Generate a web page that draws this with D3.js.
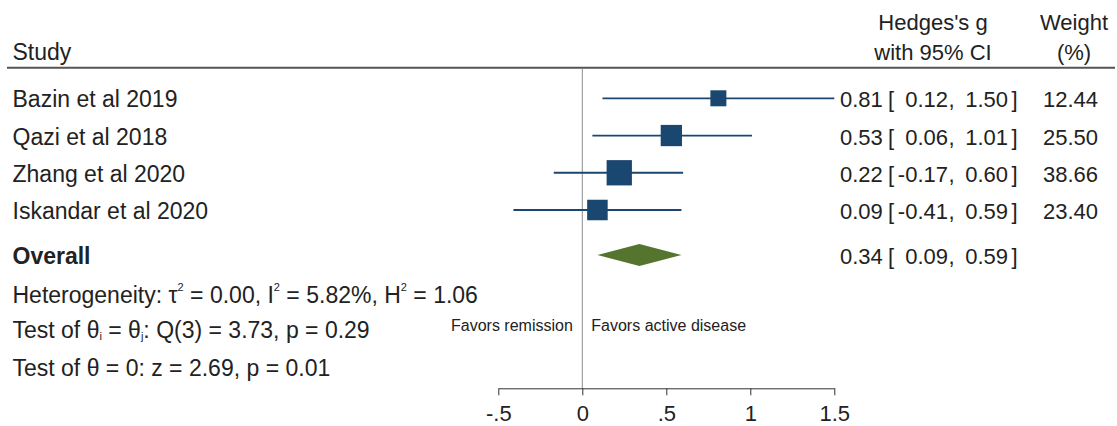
<!DOCTYPE html>
<html>
<head>
<meta charset="utf-8">
<script src="https://cdn.jsdelivr.net/npm/d3@7"></script>
<style>
  html, body { margin: 0; padding: 0; background: #fff; }
  svg { display: block; }
  text { font-family: "Liberation Sans", Arial, sans-serif; fill: #222; }
</style>
</head>
<body>
<svg id="chart" width="1117" height="426"></svg>
<script>
// Study-level results (Hedges's g, 95% CI, weight %)
const studies = ["Bazin et al 2019", "Qazi et al 2018", "Zhang et al 2020", "Iskandar et al 2020"];
const effect  = [0.81, 0.53, 0.22, 0.09];
const lower   = [0.12, 0.06, -0.17, -0.41];
const upper   = [1.50, 1.01, 0.60, 0.59];
const weight  = [12.44, 25.50, 38.66, 23.40];

// Pooled estimate
const overallEffect = 0.34;
const overallLower  = 0.09;
const overallUpper  = 0.59;

// Axis ticks
const tickValues = [-0.5, 0, 0.5, 1, 1.5];
const tickLabels = ["-.5", "0", ".5", "1", "1.5"];

const navy = "#1a476f";
const green = "#55752f";
// two decimals, plain hyphen for negatives
const fmt = d3.formatLocale({decimal: ".", thousands: ",", grouping: [3],
  currency: ["", ""], minus: "-"}).format(".2f");
const FS = 23;   // left-hand labels and statistics
const FR = 22;   // right-hand columns and axis labels

const svg = d3.select("#chart");
const W = 1117;

const x = d3.scaleLinear().domain([-0.5, 1.5]).range([498.3, 834.3]);
const y = d3.scalePoint().domain(studies).range([98.3, 210]);
const overallY = 255;
const axisY = 388.3;
const boxSide = d3.scaleSqrt().domain([0, d3.max(weight)]).range([3.8, 25.3]);

const rows = studies.map((s, i) => ({
  name: s, est: effect[i], lo: lower[i], hi: upper[i], w: weight[i]
}));

// Header
svg.append("text").attr("x", 12.5).attr("y", 60).attr("font-size", FS).text("Study");
svg.append("text").attr("x", 933).attr("y", 29.5).attr("font-size", FR)
  .attr("text-anchor", "middle").text("Hedges's g");
svg.append("text").attr("x", 933).attr("y", 60).attr("font-size", FR)
  .attr("text-anchor", "middle").text("with 95% CI");
svg.append("text").attr("x", 1074).attr("y", 29.5).attr("font-size", FR)
  .attr("text-anchor", "middle").text("Weight");
svg.append("text").attr("x", 1074).attr("y", 60).attr("font-size", FR)
  .attr("text-anchor", "middle").text("(%)");

svg.append("line")
  .attr("x1", 7).attr("x2", W - 2)
  .attr("y1", 67.7).attr("y2", 67.7)
  .attr("stroke", "#555").attr("stroke-width", 2);

// No-effect reference line
svg.append("line")
  .attr("x1", x(0)).attr("x2", x(0))
  .attr("y1", 68.7).attr("y2", axisY)
  .attr("stroke", "#8c8c8c").attr("stroke-width", 1);

// Study rows
const g = svg.append("g").selectAll("g.row").data(rows).join("g").attr("class", "row");

g.append("text")
  .attr("x", 12.5).attr("y", d => y(d.name) + 9)
  .attr("font-size", FS).text(d => d.name);

g.append("line")
  .attr("x1", d => x(d.lo)).attr("x2", d => x(d.hi))
  .attr("y1", d => y(d.name)).attr("y2", d => y(d.name))
  .attr("stroke", navy).attr("stroke-width", 1.8);

g.append("rect")
  .attr("x", d => x(d.est) - boxSide(d.w) / 2)
  .attr("y", d => y(d.name) - boxSide(d.w) / 2)
  .attr("width", d => boxSide(d.w))
  .attr("height", d => boxSide(d.w))
  .attr("fill", navy);

// Estimate and CI columns, each piece in its own aligned column
function ciText(sel, est, lo, hi, yy) {
  sel.append("text").attr("x", 840).attr("y", yy).attr("font-size", FR).text(fmt(est));
  sel.append("text").attr("x", 888).attr("y", yy).attr("font-size", FR).text("[");
  sel.append("text").attr("x", 948).attr("y", yy).attr("font-size", FR)
    .attr("text-anchor", "end").text(fmt(lo));
  sel.append("text").attr("x", 948.5).attr("y", yy).attr("font-size", FR).text(",");
  sel.append("text").attr("x", 1008).attr("y", yy).attr("font-size", FR)
    .attr("text-anchor", "end").text(fmt(hi));
  sel.append("text").attr("x", 1011.5).attr("y", yy).attr("font-size", FR).text("]");
}
rows.forEach(d => {
  const yy = y(d.name) + 9;
  ciText(svg, d.est, d.lo, d.hi, yy);
  svg.append("text").attr("x", 1098).attr("y", yy).attr("font-size", FR)
    .attr("text-anchor", "end").text(fmt(d.w));
});

// Overall
svg.append("text").attr("x", 12.5).attr("y", overallY + 9)
  .attr("font-size", FS).attr("font-weight", "bold").text("Overall");
svg.append("path")
  .attr("d", d3.line()([
    [x(overallLower), overallY],
    [x(overallEffect), overallY - 11],
    [x(overallUpper), overallY],
    [x(overallEffect), overallY + 11]
  ]) + "Z")
  .attr("fill", green);
ciText(svg, overallEffect, overallLower, overallUpper, overallY + 9);

// Heterogeneity and test statistics
function statLine(yy, parts) {
  const t = svg.append("text").attr("x", 12.5).attr("y", yy).attr("font-size", FS)
    .attr("xml:space", "preserve");
  parts.forEach(p => {
    if (typeof p === "string") {
      t.append("tspan").attr("y", yy).attr("font-size", FS).text(p);
    } else if (p.sup) {
      t.append("tspan").attr("y", yy - 12).attr("font-size", 11).text(p.sup);
    } else if (p.sub) {
      t.append("tspan").attr("y", yy + 2).attr("font-size", 11).text(p.sub);
    }
  });
}
statLine(302.7, ["Heterogeneity: τ", {sup: "2"}, " = 0.00, I", {sup: "2"},
  " = 5.82%, H", {sup: "2"}, " = 1.06"]);
statLine(338.3, ["Test of θ", {sub: "i"}, " = θ", {sub: "j"}, ": Q(3) = 3.73, p = 0.29"]);
statLine(375.7, ["Test of θ = 0: z = 2.69, p = 0.01"]);

// Direction labels
svg.append("text").attr("x", x(0) - 9.5).attr("y", 331).attr("font-size", 16)
  .attr("text-anchor", "end").text("Favors remission");
svg.append("text").attr("x", x(0) + 9).attr("y", 331).attr("font-size", 16)
  .text("Favors active disease");

// Axis
const axis = d3.axisBottom(x)
  .tickValues(tickValues)
  .tickFormat((d, i) => tickLabels[i])
  .tickSizeInner(7).tickSizeOuter(0).tickPadding(10);
const ax = svg.append("g").attr("transform", `translate(0,${axisY})`).call(axis);
ax.select(".domain").attr("stroke", "#333").attr("stroke-width", 1);
ax.selectAll(".tick line").attr("stroke", "#333").attr("stroke-width", 1);
ax.selectAll(".tick text")
  .attr("font-size", FR)
  .attr("font-family", "\"Liberation Sans\", Arial, sans-serif")
  .attr("fill", "#222");
</script>
</body>
</html>
